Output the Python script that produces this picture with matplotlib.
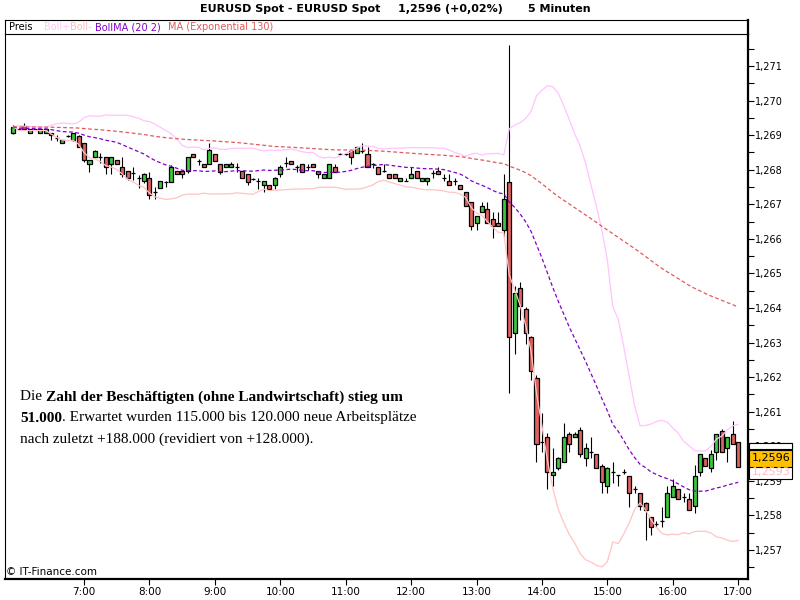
import numpy as np
import pandas as pd
import matplotlib
matplotlib.use("Agg")
import matplotlib.pyplot as plt
from matplotlib.patches import Rectangle
from matplotlib.ticker import MultipleLocator, FuncFormatter

# 5-minute candles EURUSD, 05:55 - 17:00
opens = [
    1.26905, 1.26917, 1.26926, 1.26905, 1.26917, 1.26905, 1.26905, 1.26905, 1.26891, 1.26876,
    1.26898, 1.26886, 1.26898, 1.26876, 1.26817, 1.26838, 1.26838, 1.26836, 1.26817, 1.26828,
    1.26809, 1.26796, 1.26790, 1.26775, 1.26767, 1.26775, 1.26736, 1.26746, 1.26765, 1.26765,
    1.26796, 1.26796, 1.26796, 1.26845, 1.26826, 1.26817, 1.26817, 1.26845, 1.26817, 1.26807,
    1.26807, 1.26807, 1.26796, 1.26788, 1.26773, 1.26767, 1.26756, 1.26755, 1.26755, 1.26787,
    1.26819, 1.26826, 1.26807, 1.26816, 1.26807, 1.26816, 1.26796, 1.26775, 1.26775, 1.26807,
    1.26845, 1.26846, 1.26855, 1.26847, 1.26855, 1.26845, 1.26817, 1.26807, 1.26796, 1.26787,
    1.26787, 1.26767, 1.26767, 1.26775, 1.26796, 1.26767, 1.26767, 1.26790, 1.26796, 1.26775,
    1.26767, 1.26767, 1.26755, 1.26735, 1.26707, 1.26645, 1.26678, 1.26686, 1.26657, 1.26647,
    1.26626, 1.26765, 1.26327, 1.26457, 1.26396, 1.26315, 1.26197, 1.26013, 1.26026, 1.25916,
    1.25936, 1.25955, 1.26035, 1.26026, 1.26047, 1.25965, 1.25984, 1.25977, 1.25944, 1.25885,
    1.25925, 1.25916, 1.25925, 1.25915, 1.25876, 1.25864, 1.25835, 1.25795, 1.25775, 1.25785,
    1.25795, 1.25854, 1.25876, 1.25854, 1.25847, 1.25827, 1.25925, 1.25965, 1.25936, 1.25984,
    1.26045, 1.25994, 1.26035, 1.26013,
]
highs = [
    1.26929, 1.26920, 1.26936, 1.26917, 1.26918, 1.26917, 1.26917, 1.26905, 1.26900, 1.26886,
    1.26900, 1.26907, 1.26900, 1.26876, 1.26828, 1.26857, 1.26847, 1.26836, 1.26836, 1.26828,
    1.26836, 1.26796, 1.26807, 1.26785, 1.26791, 1.26794, 1.26751, 1.26767, 1.26767, 1.26814,
    1.26796, 1.26796, 1.26836, 1.26845, 1.26830, 1.26817, 1.26876, 1.26845, 1.26817, 1.26817,
    1.26823, 1.26819, 1.26796, 1.26788, 1.26775, 1.26775, 1.26767, 1.26755, 1.26780, 1.26814,
    1.26836, 1.26826, 1.26814, 1.26816, 1.26817, 1.26816, 1.26796, 1.26787, 1.26816, 1.26817,
    1.26847, 1.26848, 1.26855, 1.26865, 1.26876, 1.26865, 1.26819, 1.26807, 1.26817, 1.26787,
    1.26787, 1.26775, 1.26777, 1.26807, 1.26796, 1.26775, 1.26775, 1.26799, 1.26807, 1.26787,
    1.26787, 1.26775, 1.26755, 1.26735, 1.26707, 1.26666, 1.26707, 1.26707, 1.26678, 1.26678,
    1.26787, 1.27161, 1.26464, 1.26476, 1.26404, 1.26320, 1.26205, 1.26095, 1.26038, 1.25994,
    1.25970, 1.26066, 1.26040, 1.26042, 1.26057, 1.26009, 1.26026, 1.25977, 1.25950, 1.25940,
    1.25955, 1.25918, 1.25934, 1.25915, 1.25885, 1.25864, 1.25840, 1.25795, 1.25785, 1.25825,
    1.25885, 1.25904, 1.25876, 1.25864, 1.25864, 1.25946, 1.25977, 1.25965, 1.25989, 1.26035,
    1.26050, 1.26026, 1.26074, 1.26013,
]
lows = [
    1.26903, 1.26915, 1.26918, 1.26905, 1.26916, 1.26905, 1.26905, 1.26886, 1.26884, 1.26876,
    1.26895, 1.26884, 1.26865, 1.26823, 1.26794, 1.26836, 1.26820, 1.26788, 1.26788, 1.26817,
    1.26780, 1.26770, 1.26770, 1.26746, 1.26761, 1.26714, 1.26714, 1.26746, 1.26751, 1.26765,
    1.26787, 1.26775, 1.26790, 1.26836, 1.26814, 1.26807, 1.26817, 1.26826, 1.26787, 1.26807,
    1.26807, 1.26794, 1.26775, 1.26756, 1.26771, 1.26743, 1.26735, 1.26745, 1.26745, 1.26780,
    1.26809, 1.26817, 1.26794, 1.26794, 1.26799, 1.26807, 1.26775, 1.26775, 1.26775, 1.26794,
    1.26843, 1.26844, 1.26816, 1.26847, 1.26847, 1.26807, 1.26805, 1.26787, 1.26794, 1.26775,
    1.26775, 1.26767, 1.26767, 1.26775, 1.26775, 1.26767, 1.26756, 1.26775, 1.26787, 1.26767,
    1.26756, 1.26756, 1.26745, 1.26696, 1.26626, 1.26626, 1.26678, 1.26645, 1.26602, 1.26637,
    1.26605, 1.26155, 1.26267, 1.26365, 1.26296, 1.26192, 1.25955, 1.25984, 1.25876, 1.25885,
    1.25930, 1.25955, 1.25984, 1.26026, 1.25970, 1.25944, 1.25965, 1.25936, 1.25864, 1.25864,
    1.25893, 1.25885, 1.25920, 1.25825, 1.25864, 1.25816, 1.25729, 1.25743, 1.25766, 1.25767,
    1.25795, 1.25854, 1.25847, 1.25840, 1.25816, 1.25806, 1.25914, 1.25944, 1.25925, 1.25960,
    1.25984, 1.25955, 1.26006, 1.25940,
]
closes = [
    1.26924, 1.26917, 1.26918, 1.26917, 1.26917, 1.26917, 1.26917, 1.26900, 1.26891, 1.26886,
    1.26898, 1.26905, 1.26867, 1.26828, 1.26828, 1.26855, 1.26838, 1.26809, 1.26836, 1.26817,
    1.26788, 1.26775, 1.26790, 1.26775, 1.26787, 1.26727, 1.26736, 1.26767, 1.26765, 1.26807,
    1.26787, 1.26787, 1.26836, 1.26836, 1.26826, 1.26807, 1.26857, 1.26826, 1.26794, 1.26817,
    1.26817, 1.26807, 1.26775, 1.26765, 1.26773, 1.26767, 1.26767, 1.26745, 1.26776, 1.26808,
    1.26819, 1.26817, 1.26807, 1.26794, 1.26807, 1.26807, 1.26787, 1.26787, 1.26816, 1.26794,
    1.26845, 1.26846, 1.26836, 1.26865, 1.26855, 1.26807, 1.26817, 1.26787, 1.26796, 1.26775,
    1.26775, 1.26775, 1.26767, 1.26787, 1.26775, 1.26775, 1.26775, 1.26790, 1.26787, 1.26775,
    1.26756, 1.26767, 1.26745, 1.26696, 1.26637, 1.26666, 1.26696, 1.26645, 1.26637, 1.26637,
    1.26714, 1.26315, 1.26444, 1.26406, 1.26329, 1.26218, 1.26007, 1.26013, 1.25925, 1.25925,
    1.25965, 1.26026, 1.26006, 1.26035, 1.25977, 1.25994, 1.25984, 1.25936, 1.25896, 1.25936,
    1.25925, 1.25916, 1.25925, 1.25864, 1.25876, 1.25827, 1.25816, 1.25766, 1.25775, 1.25785,
    1.25864, 1.25885, 1.25847, 1.25854, 1.25816, 1.25915, 1.25977, 1.25944, 1.25977, 1.26035,
    1.25984, 1.26026, 1.26006, 1.25940,
]
start_time = "2012-12-07 05:55"
last_price = 1.2596
hidden_price = 1.2593
y_ticks = [1.257, 1.258, 1.259, 1.260, 1.261, 1.262, 1.263, 1.264,
           1.265, 1.266, 1.267, 1.268, 1.269, 1.270, 1.271]
note_lines = [
    [("Die ", "normal"), ("Zahl der Beschäftigten (ohne Landwirtschaft) stieg um", "bold")],
    [("51.000", "bold"), (". Erwartet wurden 115.000 bis 120.000 neue Arbeitsplätze", "normal")],
    [("nach zuletzt +188.000 (revidiert von +128.000).", "normal")],
]

GREEN = "#3cc83c"
RED = "#e06262"
C_UP = "#ffc4ff"
C_DN = "#ffc4c4"
C_MID = "#8000c8"
C_EMA = "#e05a5a"

W, H = 800, 600


def fx(px):
    return px / W


def fy(py):
    return 1 - py / H


o = np.array(opens)
h = np.array(highs)
l = np.array(lows)
c = np.array(closes)
n = len(c)
x = np.arange(n)
times = pd.date_range(start_time, periods=n, freq="5min")

close = pd.Series(c)
boll_mid = close.rolling(20, min_periods=1).mean()
boll_sd = close.rolling(20, min_periods=1).std(ddof=0)
boll_up = boll_mid + 2 * boll_sd
boll_dn = boll_mid - 2 * boll_sd
ema = close.ewm(span=130, adjust=False).mean()

fig = plt.figure(figsize=(8, 6), dpi=100)
ax = fig.add_axes([fx(5), fy(579), fx(743), (579 - 34) / H])
leg = fig.add_axes([fx(5), fy(34), fx(743), 14 / H])

# candles
ax.vlines(x, l, h, color="black", lw=0.8, zorder=2)
ax.bar(x, np.abs(c - o), bottom=np.minimum(o, c), width=0.74,
       color=np.where(c >= o, GREEN, RED), edgecolor="black", lw=0.9, zorder=3)

# indicators
ax.plot(x, boll_up, color=C_UP, lw=0.9, zorder=4)
ax.plot(x, boll_dn, color=C_DN, lw=0.9, zorder=4)
ax.plot(x, boll_mid, color=C_MID, lw=0.9, dashes=(3, 2), zorder=4)
ax.plot(x, ema, color=C_EMA, lw=0.9, dashes=(3, 2), zorder=4)

ax.set_xlim(-1.5, 134.8)
ax.set_ylim(1.256161, 1.271926)

ax.yaxis.tick_right()
ax.set_yticks(y_ticks)
ax.yaxis.set_minor_locator(MultipleLocator(0.0005))
ax.yaxis.set_major_formatter(FuncFormatter(lambda v, p: f"{v:.3f}".replace(".", ",")))
ax.tick_params(axis="y", which="both", direction="out", length=4, width=0.8,
               labelsize=7, pad=1)

hour_pos = [i for i, t in enumerate(times) if t.minute == 0 and t.hour >= 7]
ax.set_xticks(hour_pos)
ax.set_xticklabels([f"{times[i].hour}:00" for i in hour_pos])
ax.tick_params(axis="x", direction="out", length=4, width=0.8, labelsize=7.5, pad=2)

ax.spines["top"].set_visible(False)
ax.spines["left"].set_linewidth(0.8)
ax.spines["right"].set_linewidth(1.6)
ax.spines["bottom"].set_linewidth(1.6)

# legend strip
leg.set_xticks([])
leg.set_yticks([])
for side in ["top", "left", "bottom"]:
    leg.spines[side].set_linewidth(0.8)
leg.spines["right"].set_linewidth(1.6)

legend_items = [("Preis", "black", 9), ("Boll+", C_UP, 44), ("Boll-", "#ffbcbc", 70),
                ("BollMA (20 2)", C_MID, 95), ("MA (Exponential 130)", C_EMA, 168)]
for label, col, px in legend_items:
    fig.text(fx(px), fy(27.5), label, color=col, fontsize=7, va="center", ha="left")

# title
fig.text(fx(200), fy(9), "EURUSD Spot - EURUSD Spot", fontsize=8, fontweight="bold", va="center")
fig.text(fx(398), fy(9), f"{last_price:.4f} (+0,02%)".replace(".", ","), fontsize=8,
         fontweight="bold", va="center")
fig.text(fx(528), fy(9), "5 Minuten", fontsize=8, fontweight="bold", va="center")

# news text
for k, pieces in enumerate(note_lines):
    prev = None
    for txt, weight in pieces:
        if prev is None:
            prev = fig.text(fx(20), fy(397 + 21 * k), txt, family="Liberation Serif",
                            fontsize=11, fontweight=weight, va="center")
        else:
            prev = ax.annotate(txt, xy=(1, 0), xycoords=prev, va="bottom", ha="left",
                               family="Liberation Serif", fontsize=11, fontweight=weight)

fig.text(fx(6), fy(572), "© IT-Finance.com", fontsize=7.5, va="center")

# last price box on the right scale
fig.add_artist(Rectangle((fx(749), fy(479)), fx(43), 36 / H, transform=fig.transFigure,
                         fc="white", ec="black", lw=0.8))
fig.add_artist(Rectangle((fx(749), fy(449)), fx(43), 6 / H, transform=fig.transFigure,
                         fc="white", ec="black", lw=0.8))
fig.text(fx(752), fy(472), f"{hidden_price:.4f}".replace(".", ","), color="#ffbcbc",
         fontsize=8, va="center")
fig.add_artist(Rectangle((fx(749), fy(467)), fx(43), 17 / H, transform=fig.transFigure,
                         fc="#ffc000", ec="black", lw=0.8))
fig.text(fx(752), fy(458.5), f"{last_price:.4f}".replace(".", ","), color="black",
         fontsize=8, va="center")

fig.savefig("out.png", dpi=100)
